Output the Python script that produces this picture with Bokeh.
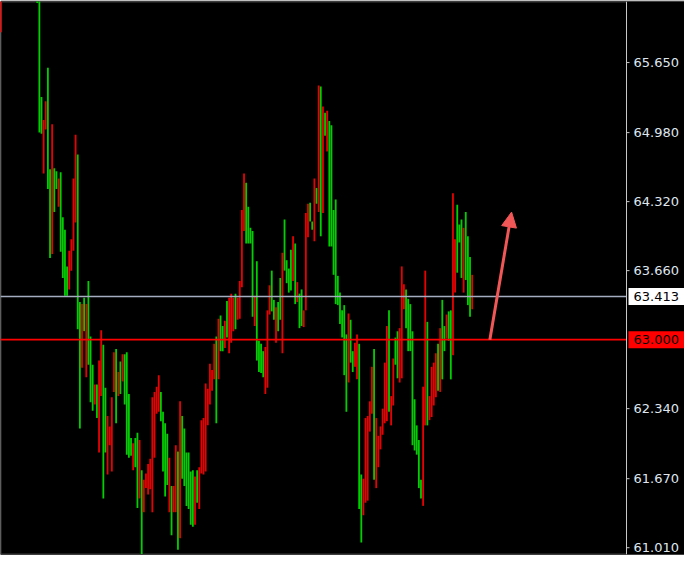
from bokeh.plotting import figure
from bokeh.models import Span, Arrow, NormalHead, Range1d, ColumnDataSource
from bokeh.embed import file_html
from bokeh.resources import INLINE
from bokeh.core.properties import value

# ---- data (bar highs / lows) ----
highs = [
    66.40, 66.55, 66.62, 66.70, 66.66, 66.74, 66.80, 66.72, 66.68, 66.75,
    66.64, 66.58, 66.61, 66.52, 66.57, 66.49, 66.45, 66.45, 66.45, 65.32,
    65.10, 65.28, 65.60, 64.63, 65.06, 64.64, 64.61, 64.54, 64.60, 64.17,
    64.05, 63.70, 63.85, 63.96, 64.54, 64.96, 64.77, 63.36, 63.34, 63.40,
    63.34, 63.56, 63.03, 62.76, 62.57, 62.57, 62.80, 63.09, 62.95, 62.54,
    62.27, 62.17, 62.45, 62.88, 62.91, 62.69, 62.79, 62.86, 62.86, 62.88,
    62.48, 62.06, 62.01, 62.06, 62.11, 62.04, 61.75, 61.66, 61.72, 61.81,
    61.86, 62.45, 62.50, 62.55, 62.66, 62.50, 62.31, 62.20, 62.10, 61.87,
    61.60, 61.60, 61.99, 61.93, 62.41, 62.27, 62.15, 61.92, 61.92, 61.74,
    61.75, 61.69, 61.75, 61.78, 62.23, 62.25, 62.58, 62.53, 62.77, 62.71,
    62.96, 63.03, 63.20, 63.23, 63.13, 63.18, 63.37, 63.40, 63.44, 63.40,
    63.44, 63.40, 63.56, 64.24, 64.59, 64.50, 64.27, 64.07, 64.04, 63.42,
    63.75, 62.99, 62.96, 62.89, 62.93, 63.28, 63.52, 63.66, 63.38, 63.31,
    63.36, 63.59, 63.83, 64.15, 63.76, 63.68, 63.86, 63.99, 63.92, 63.55,
    63.44, 63.48, 63.28, 64.21, 64.30, 64.31, 64.13, 64.54, 64.45, 65.43,
    65.42, 65.23, 65.17, 65.19, 65.09, 65.05, 64.24, 64.34, 63.61, 63.45,
    63.28, 63.33, 63.05, 63.25, 63.19, 62.89, 62.97, 63.05, 62.96, 61.71,
    61.67, 62.25, 62.27, 62.41, 62.74, 62.91, 62.25, 62.08, 62.17, 62.34,
    62.78, 63.13, 63.28, 62.46, 62.82, 63.02, 63.08, 63.11, 63.70, 63.53,
    63.48, 63.39, 63.34, 63.08, 62.43, 62.18, 62.04, 61.66, 62.55, 63.66,
    63.17, 62.46, 62.74, 62.78, 62.87, 62.96, 63.11, 63.38, 63.13, 63.24,
    63.27, 63.28, 64.40, 63.96, 64.29, 64.10, 64.15, 64.07, 64.22, 63.99,
    63.79, 63.62,
]
lows = [
    65.94, 66.30, 66.38, 66.45, 66.41, 66.50, 66.55, 66.48, 66.44, 66.52,
    66.40, 66.35, 66.38, 66.30, 66.33, 66.28, 66.26, 66.22, 64.98, 64.97,
    64.59, 65.01, 64.44, 63.78, 63.82, 64.22, 64.44, 64.27, 63.84, 63.59,
    63.42, 63.42, 63.48, 63.66, 63.85, 64.12, 63.10, 62.15, 62.73, 63.08,
    62.64, 62.76, 62.40, 62.32, 62.38, 62.25, 61.92, 62.46, 61.48, 61.92,
    61.71, 61.99, 61.74, 62.50, 62.20, 62.46, 62.48, 62.60, 62.38, 61.90,
    61.87, 61.89, 61.75, 61.78, 61.39, 61.48, 60.95, 61.35, 61.58, 61.52,
    61.57, 61.35, 61.87, 62.29, 62.31, 62.22, 61.74, 61.50, 61.61, 61.35,
    61.13, 61.35, 61.35, 60.99, 61.10, 61.67, 61.60, 61.41, 61.38, 61.23,
    61.21, 61.23, 61.44, 61.38, 61.72, 61.71, 61.74, 62.18, 62.38, 62.51,
    62.62, 62.20, 62.62, 62.89, 62.89, 62.92, 63.02, 62.87, 62.97, 63.08,
    63.10, 63.19, 63.20, 63.50, 64.04, 63.92, 63.92, 63.92, 63.22, 63.13,
    62.80, 62.69, 62.68, 62.64, 62.48, 62.54, 63.24, 63.27, 63.19, 62.97,
    63.08, 63.19, 62.87, 63.66, 63.54, 63.45, 63.47, 63.56, 63.34, 63.36,
    63.11, 63.13, 63.12, 63.28, 63.98, 64.13, 64.05, 63.94, 64.30, 64.22,
    63.99, 64.21, 64.95, 64.80, 63.89, 63.89, 63.62, 63.34, 63.33, 63.15,
    63.02, 62.66, 62.31, 62.59, 62.78, 62.69, 62.74, 62.62, 61.38, 61.06,
    61.32, 61.44, 61.46, 62.12, 62.29, 61.66, 61.58, 61.78, 61.95, 62.09,
    62.20, 62.22, 62.31, 62.18, 62.37, 62.76, 62.63, 62.59, 62.63, 63.29,
    63.11, 62.89, 62.89, 61.99, 61.94, 61.90, 61.58, 61.48, 61.41, 62.18,
    62.18, 62.23, 62.26, 62.37, 62.45, 62.51, 62.50, 62.62, 62.89, 63.01,
    62.99, 62.62, 62.85, 63.45, 63.64, 63.93, 63.59, 63.45, 63.57, 63.33,
    63.22, 63.29,
]
# G = up bar (green), R = down bar (red)
directions = (
    "RRRRRRRRRR" "RRRRRRRGGG" "RRGGRGGRGG" "GGRRRRGGRG" "RGGGRGRRGG"
    "RRRRGRGRGG" "GGRGGRGRRR" "RRRRRGGGGR" "GRRGRGGGGG" "GRGRRRRRRR"
    "RGRGGRGRRR" "GRRRRGGGGR" "GGGGRRRGGR" "GGRGGGGRGR" "GGRRRGGRGR"
    "GRGRGGGGGG" "GGGRGGRRGG" "RRRRRGRRRR" "RRGRRGGRRR" "GGGGGGGGRR"
    "GRRRRGRGGR" "GGRRGGGRGG" "GR"
)
tick_values = [65.650, 64.980, 64.320, 63.660, 62.340, 61.670, 61.010]
bid_price = 63.413
level_price = 63.000
arrow_from = (229.3, 63.00)
arrow_to = (239.5, 64.22)

# ---- styling / layout ----
UP = "#00d000"
DOWN = "#ea0000"
ARROW = "#f25757"
FONT = "DejaVu Sans"
AXIS_COL = "#c8c8c8"
LABEL_COL = "#dfe6ee"

FRAME_W, FRAME_H = 684, 553
PLOT_W = 626                      # width of the bar area, px
Y0, Y1 = 60.945, 66.234
X0, X1 = -0.23, 293.4             # bar area in bar-index units
UPP = (X1 - X0) / PLOT_W          # index units per pixel
XE = X0 + FRAME_W * UPP           # right edge of the whole frame
PPU_Y = (Y1 - Y0) / FRAME_H       # price units per pixel

n = min(len(highs), len(lows), len(directions))
src = ColumnDataSource(dict(
    x=list(range(n)), hi=highs[:n], lo=lows[:n],
    c=[UP if d == "G" else DOWN for d in directions[:n]],
))

p = figure(frame_width=FRAME_W, frame_height=FRAME_H, output_backend="svg",
           toolbar_location=None,
           x_range=Range1d(X0, XE), y_range=Range1d(Y0, Y1),
           x_axis_location=None, y_axis_location=None,
           background_fill_color="black", border_fill_color="black",
           min_border_left=0, min_border_right=0,
           min_border_top=1, min_border_bottom=1)
p.grid.visible = False
p.outline_line_color = None

# frame borders of the bar area
p.segment(x0=[X0, X0, X0], y0=[Y1, Y0, Y0], x1=[X1, X1, X0], y1=[Y1, Y0, Y1],
          line_color="#3c3c3c", line_width=2)

# price bars
p.segment(x0="x", y0="lo", x1="x", y1="hi", line_color="c",
          line_width=1.8, source=src)

# horizontal price lines
p.segment(x0=[X0, X0], y0=[bid_price, level_price],
          x1=[X1, X1], y1=[bid_price, level_price],
          line_color=["#a4aec0", "#ff0000"], line_width=[1.4, 1.9])

# price scale on the right
p.add_layout(Span(location=X1, dimension="height",
                  line_color=AXIS_COL, line_width=1))
p.segment(x0=[X1] * len(tick_values), y0=tick_values,
          x1=[X1 + 3 * UPP] * len(tick_values), y1=tick_values,
          line_color=AXIS_COL, line_width=1)
p.text(x=[X1 + 7 * UPP] * len(tick_values), y=tick_values,
       text=[f"{v:.3f}" for v in tick_values],
       text_color=LABEL_COL, text_font=value(FONT),
       text_font_size=value("13px"), text_baseline="middle",
       text_align="left")

# current price / level boxes
box_prices = [bid_price, level_price]
half_h = 8.5 * PPU_Y
p.quad(left=[X1 + 2 * UPP] * 2, right=[XE] * 2,
       bottom=[v - half_h for v in box_prices],
       top=[v + half_h for v in box_prices],
       fill_color=["white", "#ff0000"], line_color=None)
p.text(x=[X1 + 7 * UPP] * 2, y=box_prices,
       text=[f"{v:.3f}" for v in box_prices],
       text_color="black", text_font=value(FONT),
       text_font_size=value("13px"), text_baseline="middle",
       text_align="left")

p.add_layout(Arrow(end=NormalHead(size=15, fill_color=ARROW, line_color=ARROW),
                   x_start=arrow_from[0], y_start=arrow_from[1],
                   x_end=arrow_to[0], y_end=arrow_to[1],
                   line_color=ARROW, line_width=3))

open("out.html", "w").write(file_html(p, INLINE))
